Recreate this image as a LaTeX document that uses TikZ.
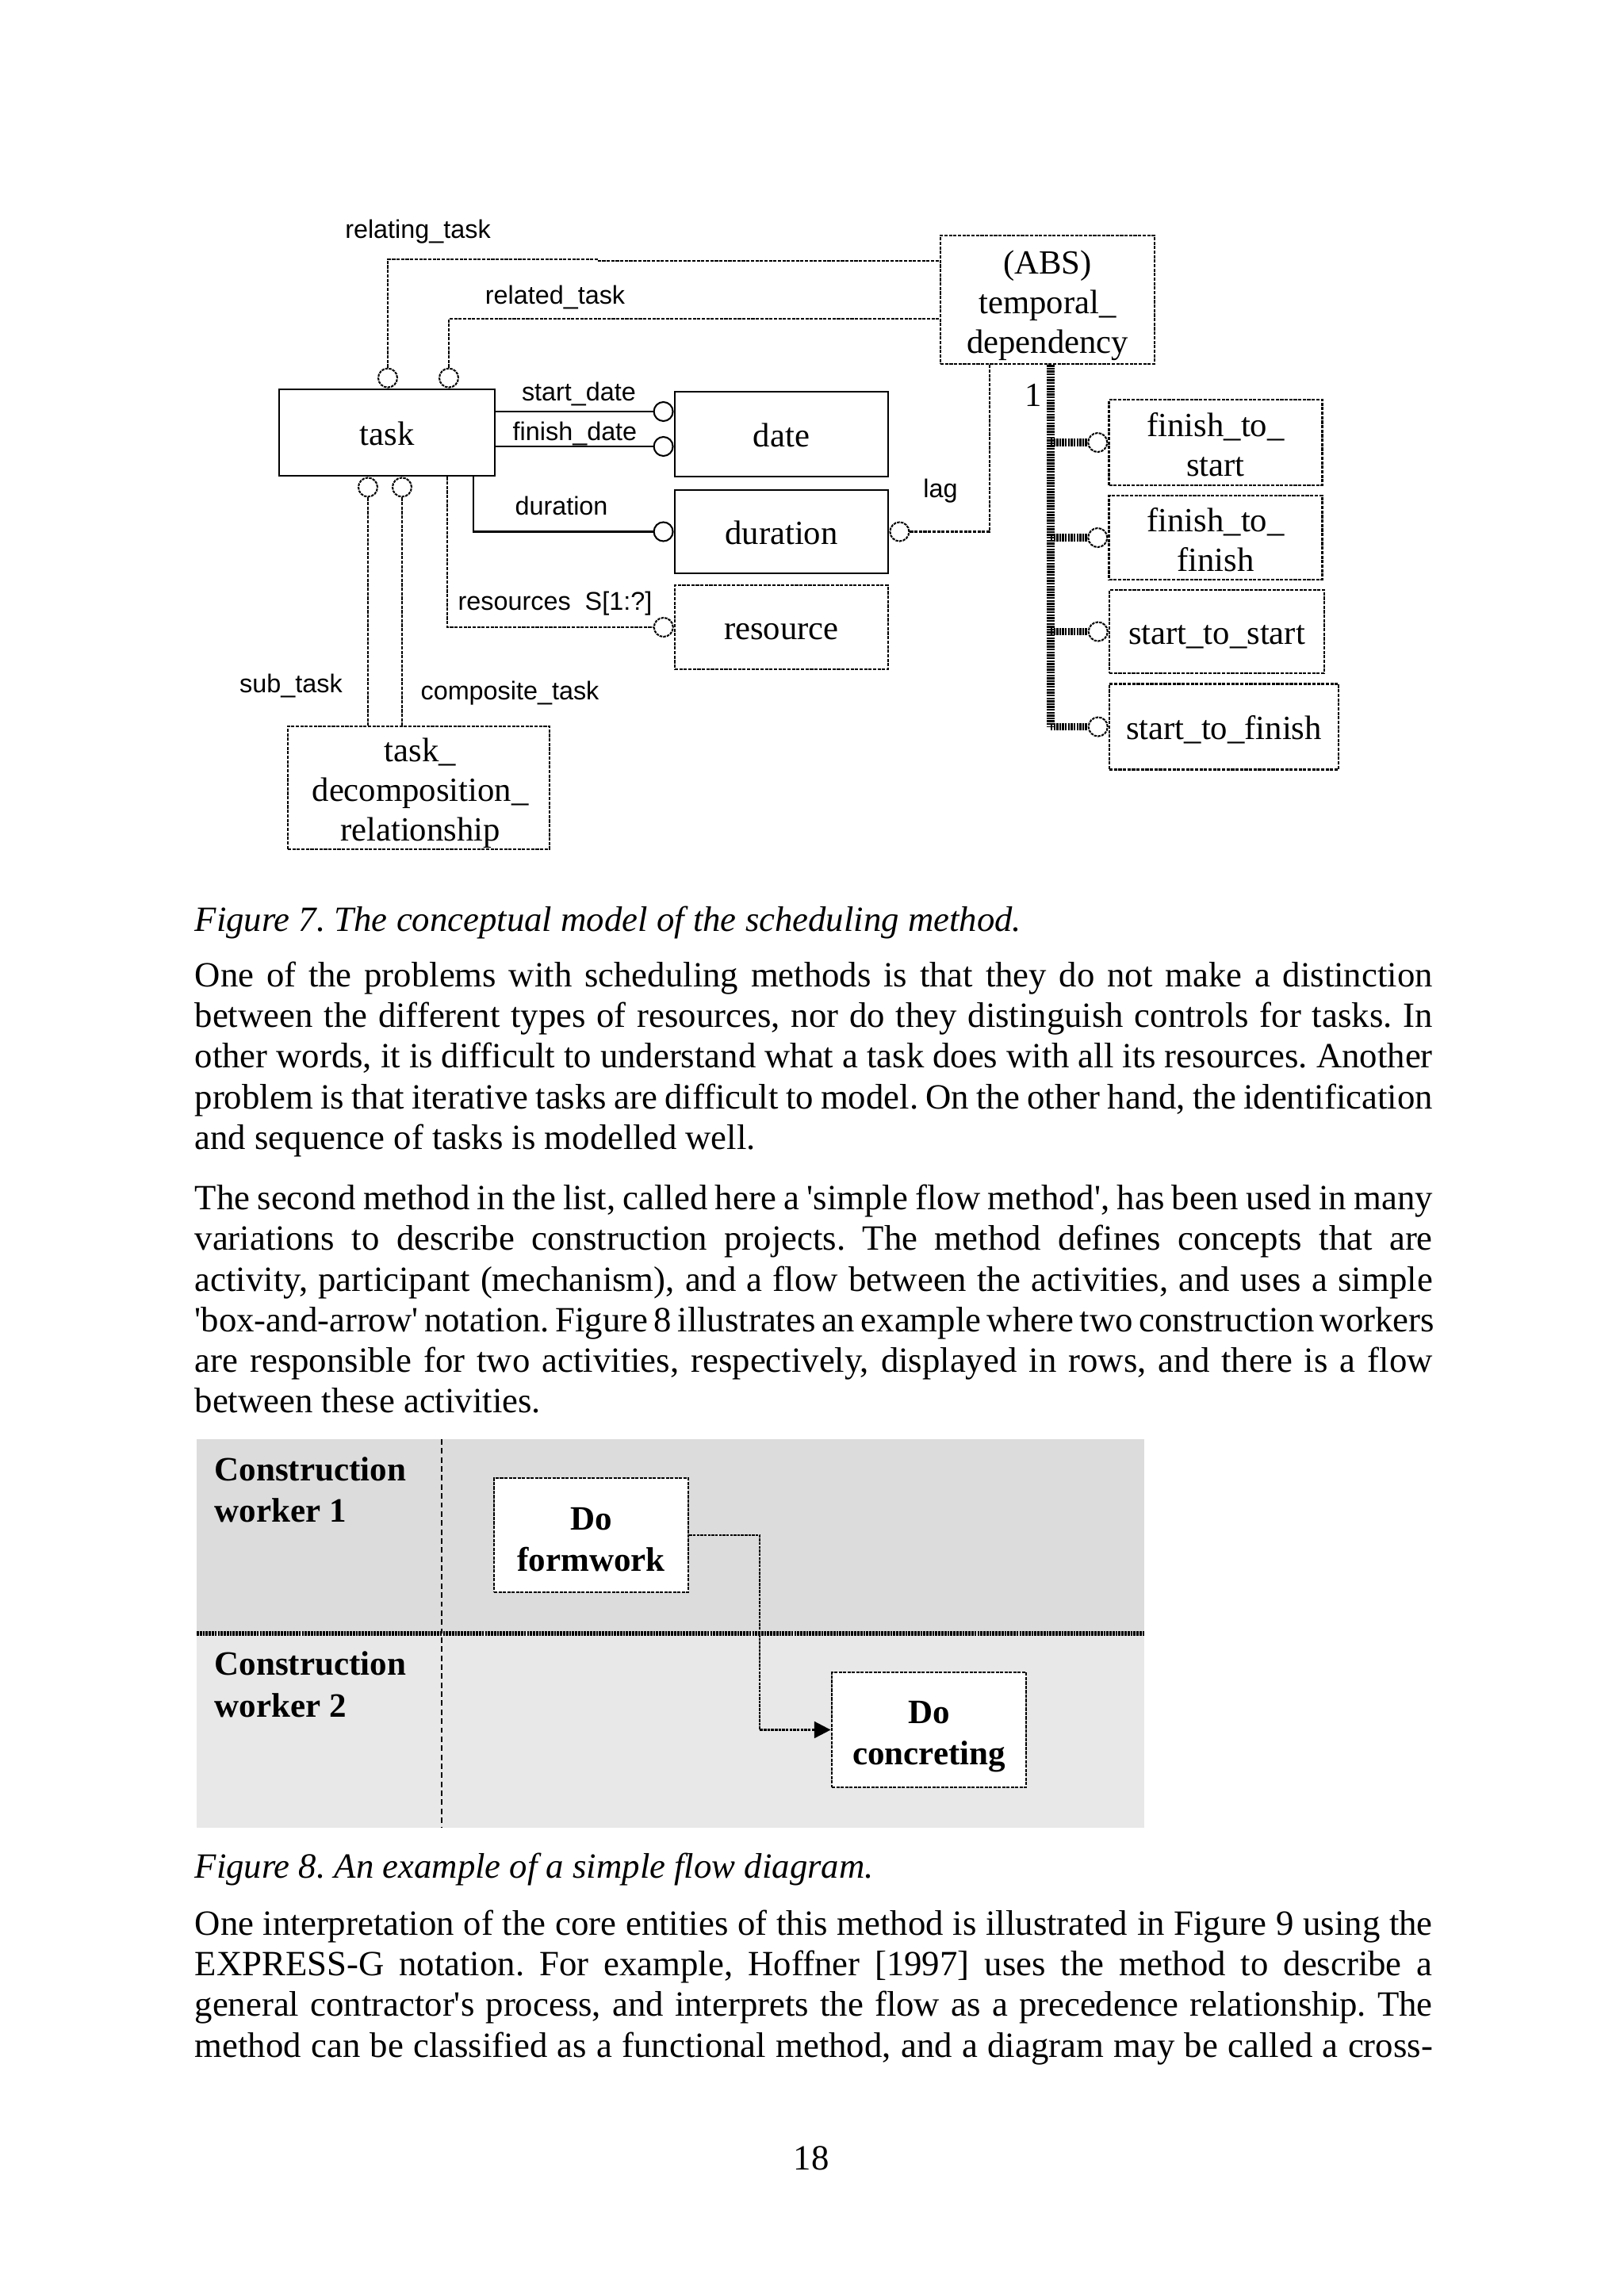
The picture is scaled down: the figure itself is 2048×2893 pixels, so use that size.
\documentclass[tikz,border=0pt]{standalone}
\usepackage{fontspec}
\setmainfont{Liberation Serif}
\newfontfamily\lsans{Liberation Sans}
\usetikzlibrary{arrows.meta,calc}
\def\pxu{0.2905pt}
\newdimen\pxd \pxd=0.2905pt
\newcommand\bodyfont{\fontsize{13}{14.95}\selectfont}
\newcommand\jline[1]{\makebox[1561\pxd][s]{#1}}
\definecolor{laneA}{RGB}{220,220,220}
\definecolor{laneB}{RGB}{232,232,232}
\frenchspacing
\tikzset{
  boxfont/.style={font=\fontsize{12.4}{14.5}\selectfont},
  sbox/.style={draw, rectangle, line width=0.8pt, inner sep=0pt, boxfont, text height=9pt, text depth=0pt},
  dbox/.style={draw, rectangle, line width=0.7pt, dash pattern=on 1.2pt off 0.45pt, inner sep=0pt, boxfont, text height=9pt, text depth=0pt},
  btxt/.style={inner sep=0pt, align=center, boxfont},
  lbl/.style={font=\lsans\fontsize{9.4}{10.5}\selectfont, inner sep=0pt},
  circs/.style={circle, draw, line width=0.6pt, minimum size=24*\pxu, inner sep=0pt},
  circd/.style={circs, dash pattern=on 1pt off 0.35pt},
  sline/.style={line width=0.7pt},
  dline/.style={line width=0.6pt, dash pattern=on 1.2pt off 0.45pt},
  subline/.style={line width=2.8pt, dash pattern=on 0.7pt off 0.35pt},
  para/.style={anchor=base west, inner sep=0pt, font=\bodyfont},
  fbox/.style={draw, rectangle, fill=white, line width=0.8pt, dash pattern=on 1.2pt off 0.4pt, inner sep=0pt},
  ftxt/.style={inner sep=0pt, align=center, font=\fontsize{12.5}{15.1}\selectfont\bfseries},
  wlbl/.style={anchor=base west, inner sep=0pt, font=\fontsize{12.5}{15.1}\selectfont\bfseries},
}
\begin{document}
\begin{tikzpicture}[x=\pxu,y=-\pxu]
\useasboundingbox[fill=white] (0,0) rectangle (2048,2893);

% ---------- Figure 7 ----------
\node[sbox, minimum width=272*\pxu, minimum height=109*\pxu] (task) at (488,545.5) {task};
\node[sbox, minimum width=269*\pxu, minimum height=107*\pxu] (date) at (985.5,547.5) {date};
\node[sbox, minimum width=269*\pxu, minimum height=105*\pxu] (dur) at (985.5,670.5) {duration};
\node[dbox, minimum width=269*\pxu, minimum height=106*\pxu] (res) at (985.5,791) {resource};
\node[dbox, minimum width=270*\pxu, minimum height=162*\pxu] (abs) at (1321,378) {};
\node[btxt] (abst) at (1321,385) {(ABS)\\temporal\_\\dependency};
\node[dbox, minimum width=269*\pxu, minimum height=108*\pxu] (fts) at (1533,558) {};
\node[btxt] (ftst) at (1533,561) {finish\_to\_\\start};
\node[dbox, minimum width=269*\pxu, minimum height=106*\pxu] (ftf) at (1533,678) {};
\node[btxt] (ftft) at (1533,680.5) {finish\_to\_\\finish};
\node[dbox, minimum width=271*\pxu, minimum height=105*\pxu] (sts) at (1534.5,796.5) {start\_to\_start};
\node[dbox, minimum width=289*\pxu, minimum height=108*\pxu] (stf) at (1543.5,916.5) {start\_to\_finish};
\node[dbox, minimum width=330*\pxu, minimum height=155*\pxu] (tdr) at (528,993.5) {};
\node[btxt] (tdrt) at (530,1000) {task\_\\decomposition\_\\relationship};

% circles
\node[circd, anchor=south] (crel1) at (task.north -| 489,0) {};
\node[circd, anchor=south] (crel2) at (task.north -| 566,0) {};
\node[circs, anchor=east] (csd) at (date.west |- 0,519) {};
\node[circs, anchor=east] (cfd) at (date.west |- 0,563) {};
\node[circs, anchor=east] (cdu) at (dur.west) {};
\node[circd, anchor=east] (cre) at (res.west) {};
\node[circd, anchor=north] (csub) at (task.south -| 464,0) {};
\node[circd, anchor=north] (ccomp) at (task.south -| 507,0) {};
\node[circd, anchor=west] (clag) at (dur.east) {};
\node[circd, anchor=east] (cfts) at (fts.west) {};
\node[circd, anchor=east] (cftf) at (ftf.west) {};
\node[circd, anchor=east] (csts) at (sts.west) {};
\node[circd, anchor=east] (cstf) at (stf.west) {};

% connectors
\draw[dline] (crel1.north) |- (753,327) -- (753,329) -- (abs.west |- 0,329);
\draw[dline] (crel2.north) |- (abs.west |- 0,402);
\draw[sline] (task.east |- csd) -- (csd.west);
\draw[sline] (task.east |- cfd) -- (cfd.west);
\draw[sline] (task.south -| 597,0) |- (cdu.west);
\draw[dline] (task.south -| 564,0) |- (cre.west);
\draw[dline] (csub.south) -- (tdr.north -| csub.south);
\draw[dline] (ccomp.south) -- (tdr.north -| ccomp.south);
\draw[dline] (clag.east) -| (abs.south -| 1248,0);
\draw[subline] (abs.south -| 1325,0) -- (1325,0 |- cstf);
\draw[subline] (1325,0 |- cfts) -- (cfts.west);
\draw[subline] (1325,0 |- cftf) -- (cftf.west);
\draw[subline] (1325,0 |- csts) -- (csts.west);
\draw[subline] (1325,0 |- cstf) -- (cstf.west);

% labels
\node[lbl] (lrelating) at (527,292) {relating\_task};
\node[lbl] (lrelated) at (700,375) {related\_task};
\node[lbl] (lsd) at (730,497) {start\_date};
\node[lbl] (lfd) at (725,547) {finish\_date};
\node[lbl] (ldu) at (708,638) {duration};
\node[lbl] (lres) at (700,761) {resources\ \ S[1:?]};
\node[lbl] (lsub) at (367,865) {sub\_task};
\node[lbl] (lcomp) at (643,874) {composite\_task};
\node[lbl] (llag) at (1186,619) {lag};
\node[inner sep=0pt, boxfont] (lone) at (1303,498) {1};

\node[para, font=\bodyfont\itshape] (cap7) at (245,1174) {Figure 7. The conceptual model of the scheduling method.};

% ---------- Paragraph 1 ----------
\node[para] (p1a) at (245,1244) {\jline{One of the problems with scheduling methods is that they do not make a distinction}};
\node[para] (p1b) at (245,1295) {\jline{between the different types of resources, nor do they distinguish controls for tasks. In}};
\node[para] (p1c) at (245,1346) {\jline{other words, it is difficult to understand what a task does with all its resources. Another}};
\node[para] (p1d) at (245,1398) {\jline{problem is that iterative tasks are difficult to model. On the other hand, the identification}};
\node[para] (p1e) at (245,1449) {and sequence of tasks is modelled well.};

% ---------- Paragraph 2 ----------
\node[para] (p2a) at (245,1525) {\jline{The second method in the list, called here a \textquotesingle simple flow method\textquotesingle, has been used in many}};
\node[para] (p2b) at (245,1576) {\jline{variations to describe construction projects. The method defines concepts that are}};
\node[para] (p2c) at (245,1628) {\jline{activity, participant (mechanism), and a flow between the activities, and uses a simple}};
\node[para] (p2d) at (245,1679) {\jline{\textquotesingle box-and-arrow\textquotesingle\ notation. Figure 8 illustrates an example where two construction workers}};
\node[para] (p2e) at (245,1730) {\jline{are responsible for two activities, respectively, displayed in rows, and there is a flow}};
\node[para] (p2f) at (245,1781) {between these activities.};

% ---------- Figure 8 ----------
\fill[laneA] (248,1815) rectangle (1443,2060);
\fill[laneB] (248,2060) rectangle (1443,2305);
\draw[line width=1.8pt, dash pattern=on 0.8pt off 0.3pt] (248,2060) -- (1443,2060);
\draw[line width=0.6pt, dash pattern=on 2pt off 1.3pt] (557,1815) -- (557,2305);
\node[wlbl] (w1a) at (270,1867) {Construction};
\node[wlbl] (w1b) at (270,1919) {worker 1};
\node[wlbl] (w2a) at (270,2112) {Construction};
\node[wlbl] (w2b) at (270,2165) {worker 2};
\node[fbox, minimum width=245*\pxu, minimum height=144*\pxu] (form) at (745.5,1936) {};
\node[ftxt] (formt) at (745.5,1941.5) {Do\\formwork};
\node[fbox, minimum width=245*\pxu, minimum height=145*\pxu] (conc) at (1171.5,2181.5) {};
\node[ftxt] (conct) at (1171.5,2190.5) {Do\\concreting};
\draw[line width=0.8pt, dash pattern=on 1pt off 0.35pt, -{Triangle[length=6pt,width=6pt]}]
  (form.east) -- (958,0 |- form.east) -- (958,0 |- conc.west) -- (conc.west);

\node[para, font=\bodyfont\itshape] (cap8) at (245,2368) {Figure 8. An example of a simple flow diagram.};

% ---------- Paragraph 3 ----------
\node[para] (p3a) at (245,2440) {\jline{One interpretation of the core entities of this method is illustrated in Figure 9 using the}};
\node[para] (p3b) at (245,2491) {\jline{EXPRESS-G notation. For example, Hoffner [1997] uses the method to describe a}};
\node[para] (p3c) at (245,2542) {\jline{general contractor\textquotesingle s process, and interprets the flow as a precedence relationship. The}};
\node[para] (p3d) at (245,2594) {\jline{method can be classified as a functional method, and a diagram may be called a cross-}};

\node[anchor=base, inner sep=0pt, font=\bodyfont] (pnum) at (1023,2736) {18};
\end{tikzpicture}
\end{document}
